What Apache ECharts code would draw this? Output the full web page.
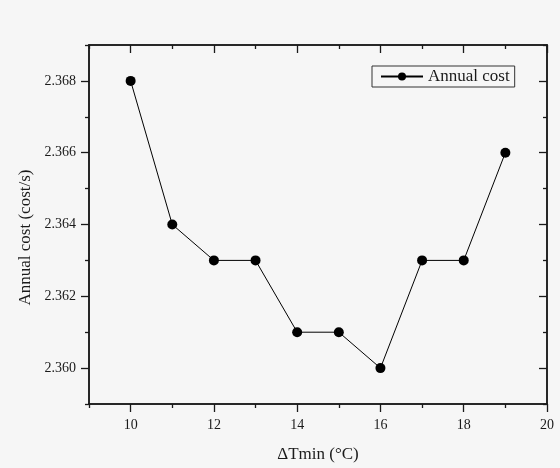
<!DOCTYPE html>
<html><head><meta charset="utf-8">
<script src="https://cdn.jsdelivr.net/npm/echarts@6/dist/echarts.min.js"></script>
<style>html,body{margin:0;background:#f6f6f6}#c{width:560px;height:468px}</style>
</head><body><div id="c"></div>
<script>
const xValues = [10, 11, 12, 13, 14, 15, 16, 17, 18, 19];
const annualCost = [2.368, 2.364, 2.363, 2.363, 2.361, 2.361, 2.360, 2.363, 2.363, 2.366];
const xMajorTicks = [10, 12, 14, 16, 18, 20];
const xMinorTicks = [9, 11, 13, 15, 17, 19];
const yMajorTicks = [2.360, 2.362, 2.364, 2.366, 2.368];
const yMinorTicks = [2.359, 2.361, 2.363, 2.365, 2.367, 2.369];
const seriesName = 'Annual cost';
const xName = 'ΔTmin (°C)';
const yName = 'Annual cost (cost/s)';

const FONT = 'Liberation Serif';
const INK = '#1a1a1a';

function axis(pos, min, max, ticks, len, inside, labels, extra) {
  return Object.assign({
    type: 'value', position: pos, min: min, max: max,
    splitLine: { show: false },
    axisLine: { show: true, onZero: false, lineStyle: { color: INK, width: 1.5 } },
    axisTick: { show: true, inside: inside, length: len, customValues: ticks,
      lineStyle: { color: INK, width: 1.3 } },
    axisLabel: labels ? { show: true, customValues: ticks, fontFamily: FONT,
      fontSize: 14, color: INK, margin: 14 } : { show: false }
  }, extra || {});
}

const chart = echarts.init(document.getElementById('c'));
chart.setOption({
  backgroundColor: '#f6f6f6',
  animation: false,
  grid: { left: 89, right: 13, top: 45, bottom: 62 },
  xAxis: [
    axis('bottom', 9, 20, xMajorTicks, 8, false, true, {
      name: xName, nameLocation: 'middle', nameGap: 42,
      nameTextStyle: { fontFamily: FONT, fontSize: 17, color: INK }
    }),
    axis('bottom', 9, 20, xMinorTicks, 4, false, false),
    axis('top', 9, 20, xMajorTicks, 8, true, false),
    axis('top', 9, 20, xMinorTicks, 4, true, false)
  ],
  yAxis: [
    axis('left', 2.359, 2.369, yMajorTicks, 8, false, true, {
      name: yName, nameLocation: 'middle', nameGap: 52,
      nameTextStyle: { fontFamily: FONT, fontSize: 17, color: INK, padding: [0, 26, 0, 0] },
      axisLabel: { show: true, customValues: yMajorTicks, fontFamily: FONT,
        fontSize: 14, color: INK, margin: 13, formatter: v => v.toFixed(3) }
    }),
    axis('left', 2.359, 2.369, yMinorTicks, 4, false, false),
    axis('right', 2.359, 2.369, yMajorTicks, 8, true, false),
    axis('right', 2.359, 2.369, yMinorTicks, 4, true, false)
  ],
  legend: {
    left: 372, top: 66, orient: 'horizontal',
    padding: [2, 5, 2, 8],
    borderColor: '#333', borderWidth: 1,
    itemWidth: 42, itemHeight: 10, itemGap: 5,
    textStyle: { fontFamily: FONT, fontSize: 17, color: INK },
    data: [seriesName]
  },
  series: [{
    name: seriesName, type: 'line',
    xAxisIndex: 0, yAxisIndex: 0,
    data: xValues.map((x, i) => [x, annualCost[i]]),
    symbol: 'circle', symbolSize: 10,
    itemStyle: { color: '#000' },
    lineStyle: { color: '#000', width: 1 }
  }]
});
</script></body></html>
